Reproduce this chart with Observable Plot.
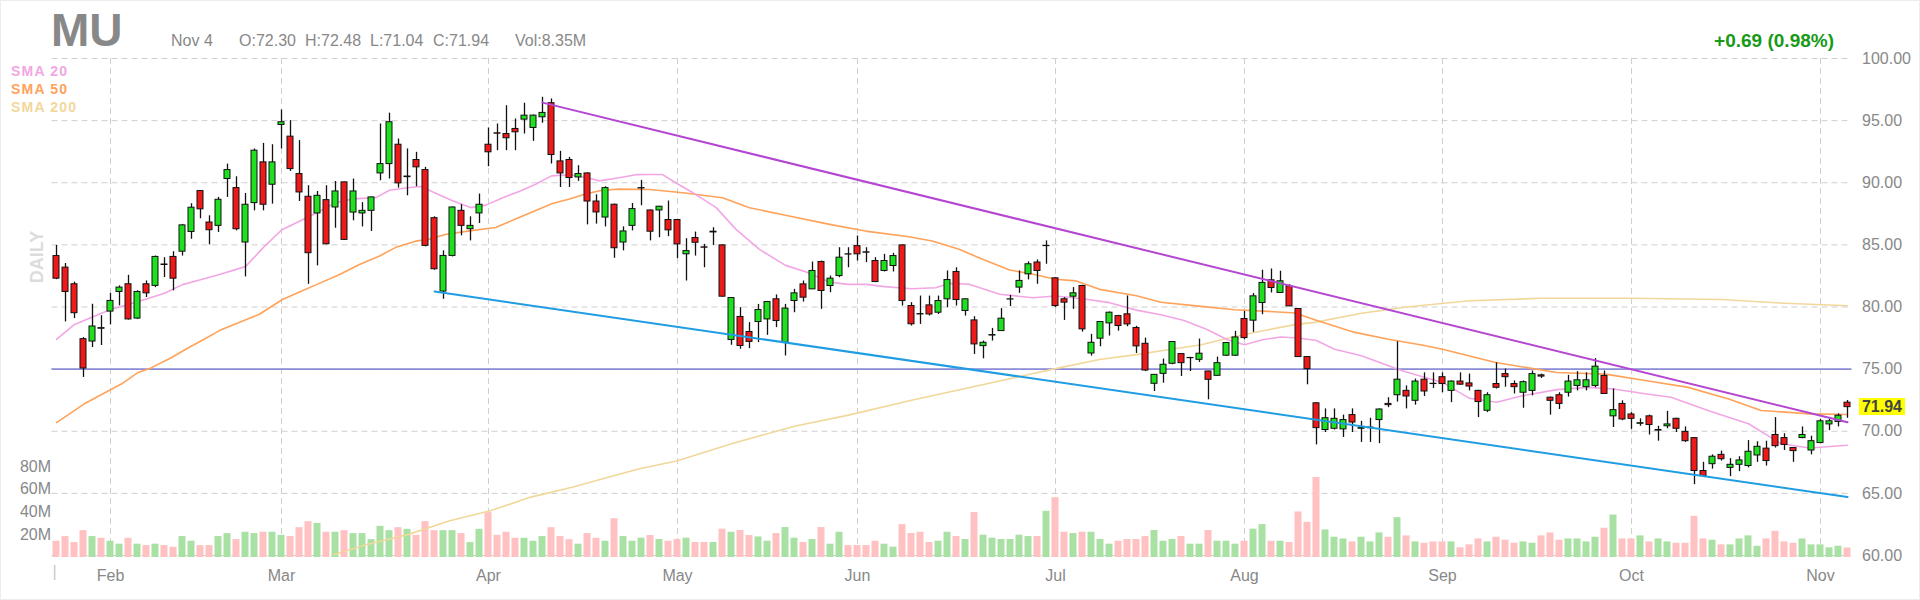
<!DOCTYPE html>
<html><head><meta charset="utf-8">
<script src="https://cdn.jsdelivr.net/npm/d3@7"></script>
<script src="https://cdn.jsdelivr.net/npm/@observablehq/plot@0.6"></script>
<style>
html,body{margin:0;padding:0;background:#fff;}
#wrap{position:relative;width:1920px;height:600px;overflow:hidden;font-family:"Liberation Sans",Arial,sans-serif;box-shadow:inset 0 0 0 1px #ececec;}
#wrap svg{position:absolute;left:0;top:0;}
.t{position:absolute;white-space:nowrap;line-height:1;}
</style></head><body><div id="wrap"></div>
<script>
// ---- data (index 0 = Jan 22, index 199 = Nov 4) ----
const opens = [84.1,83.17,81.83,77.41,77.22,78.3,79.63,81.21,81.83,79.07,81.83,81.7,83.42,84.03,84.45,86.04,89.33,86.8,86.53,90.3,
89.57,85.19,88.36,91.64,89.84,94.65,93.71,90.7,88.87,87.53,88.6,88.01,90.03,87.6,87.53,87.74,90.75,91.5,93.06,90.45,
91.83,91.02,87.15,81.24,84.11,87.74,86.26,87.53,93.06,93.98,93.92,94.33,95.08,94.41,95.27,96.4,91.72,91.83,90.43,90.75,
88.49,87.2,88.23,85.19,86.53,89.54,87.77,87.77,87.0,87.0,84.24,85.55,84.8,86.0,84.96,77.35,79.2,77.99,78.79,79.0,
80.62,77.13,80.48,81.82,81.42,83.62,81.69,82.49,84.24,84.9,84.4,83.7,82.9,83.3,84.96,80.08,79.43,80.13,79.54,80.62,
82.82,79.68,78.92,76.85,77.7,78.06,80.6,81.56,82.63,83.58,84.9,82.31,80.62,80.83,81.69,76.26,77.45,78.68,79.27,79.41,
78.31,77.04,73.82,74.62,75.43,76.21,75.88,75.75,74.81,74.46,76.08,76.08,79.03,78.9,80.32,82.15,81.13,81.67,79.84,75.97,
72.25,70.1,70.2,70.15,71.3,70.2,70.25,70.9,72.2,72.9,73.25,72.45,74.15,73.82,74.35,73.25,74.0,73.85,73.25,71.65,
73.8,74.6,73.8,73.1,73.25,74.5,72.7,72.9,73.1,73.65,73.55,73.65,74.45,71.2,72.2,71.35,70.6,71.2,70.05,70.4,
71.0,69.95,69.45,66.8,67.35,68.1,67.05,67.3,67.2,68.05,68.6,69.7,69.45,68.65,69.45,68.45,69.05,70.55,70.75,72.30];
const highs = [84.96,83.5,82.0,77.54,80.22,79.3,81.1,81.7,82.55,81.3,82.1,84.1,83.97,84.45,86.65,88.31,89.33,87.34,88.82,91.5,
90.48,89.14,92.72,93.17,93.06,95.86,95.0,93.39,89.76,89.3,89.76,90.1,90.05,90.3,88.4,88.85,94.73,95.6,93.52,92.72,
92.45,91.24,87.26,84.52,88.05,88.23,87.26,89.09,94.41,94.73,96.2,95.13,96.4,95.45,96.88,96.75,92.53,92.04,91.37,90.8,
89.03,89.68,88.28,86.45,88.33,90.19,87.8,88.1,88.53,87.05,85.5,86.03,85.04,86.38,85.0,80.75,79.95,78.74,80.21,80.45,
80.97,80.21,81.42,82.09,83.62,83.7,82.49,84.77,84.77,85.71,84.77,83.97,84.24,84.32,85.0,80.35,80.88,80.88,80.88,82.9,
83.16,80.65,79.22,77.26,78.28,79.87,80.94,82.9,83.63,83.79,85.32,82.37,80.75,81.56,81.75,77.8,78.82,79.6,79.33,80.89,
78.45,77.5,74.56,75.81,77.2,76.23,75.95,77.42,74.83,75.97,77.12,78.04,79.65,81.08,82.96,83.06,82.88,81.8,79.86,75.99,
72.3,71.8,71.8,71.3,71.8,70.8,71.05,71.8,72.7,77.2,73.65,74.2,74.7,74.7,74.7,74.05,74.7,74.6,73.3,73.1,
75.5,75.0,74.05,74.05,74.85,74.6,72.75,73.1,74.5,74.8,74.7,75.85,74.85,73.4,72.45,71.5,71.0,71.3,70.4,71.6,
71.05,70.35,69.47,67.5,68.1,68.4,67.8,67.95,69.25,69.15,69.2,71.1,69.8,68.67,70.35,69.6,70.95,70.95,71.4,72.48];
const lows = [82.2,78.8,79.07,74.33,76.74,76.9,78.56,80.09,78.95,79.0,80.76,81.56,82.37,81.3,84.1,85.45,87.1,85.0,86.0,88.82,
86.13,82.42,87.74,87.74,88.28,92.72,90.91,88.49,81.83,83.31,85.0,86.34,85.38,86.94,86.45,86.08,90.16,90.3,89.57,88.95,
89.68,84.84,82.96,80.62,84.03,85.73,85.32,86.72,91.29,92.58,92.58,92.58,93.92,93.33,94.79,91.51,89.62,89.62,90.11,86.61,
86.67,86.45,83.92,84.52,86.13,88.15,85.32,85.58,85.66,83.89,82.09,84.1,83.16,84.96,80.8,76.92,76.6,76.65,77.13,77.72,
78.34,76.06,79.54,80.4,81.4,79.81,81.15,82.36,83.16,83.7,83.57,81.96,82.82,82.82,80.08,78.47,78.6,79.28,79.4,79.94,
80.08,79.27,76.18,75.83,77.26,78.04,80.03,81.1,82.18,81.83,83.44,79.95,78.92,79.81,77.98,76.05,76.8,77.66,78.06,78.41,
76.26,74.81,73.2,73.87,75.35,74.41,74.81,75.54,72.53,74.44,76.02,76.02,77.37,77.96,79.38,81.13,81.1,80.03,75.95,73.74,
68.9,69.9,70.1,69.5,69.9,69.1,69.1,69.0,71.9,72.35,71.8,72.1,72.8,73.45,73.1,72.3,73.7,73.25,71.1,71.5,
73.4,73.55,73.0,71.85,72.85,74.25,71.3,71.75,72.75,73.25,73.25,73.5,72.98,70.3,70.85,70.15,70.4,69.7,69.2,70.2,
69.9,69.1,65.7,66.35,66.95,67.6,66.35,66.75,67.05,67.5,67.2,68.65,68.45,67.5,69.4,68.1,69.0,70.05,70.35,71.04];
const closes = [82.28,81.21,79.5,75.05,78.43,78.25,80.49,81.56,79.0,81.21,81.1,84.03,83.38,82.28,86.57,87.99,87.86,86.18,88.63,91.02,
86.26,88.23,92.58,88.23,91.64,94.87,91.1,89.22,84.33,88.95,85.05,89.3,85.4,89.3,87.74,88.82,91.5,94.87,89.95,90.5,
91.24,84.92,83.04,84.11,88.01,86.53,86.53,88.23,92.45,93.95,93.58,94.06,95.4,95.4,95.62,92.23,90.75,90.38,90.7,88.49,
87.61,89.57,84.73,86.08,87.88,89.57,86.06,88.07,86.17,85.04,84.5,85.17,84.77,86.06,80.83,80.72,76.86,77.19,79.76,80.4,
78.87,79.87,81.1,80.75,82.9,81.29,82.28,83.97,84.22,84.24,84.37,82.01,83.7,84.1,80.48,78.61,79.4,79.4,80.48,82.17,
80.56,80.62,76.99,77.12,77.74,79.06,80.62,82.1,83.44,82.9,84.92,80.08,80.35,81.1,78.2,77.12,78.79,79.54,78.47,78.6,
76.83,74.89,74.54,75.35,77.18,75.48,75.9,76.24,74.14,75.48,77.1,77.55,77.5,80.86,81.94,81.53,82.07,80.05,75.97,75.0,
70.25,71.05,71.0,70.9,70.7,70.25,70.3,71.75,72.1,74.15,72.8,74.0,73.2,73.8,73.8,74.0,73.75,73.6,72.35,72.9,
73.5,74.35,73.55,73.95,74.6,74.4,72.45,72.2,74.0,74.1,74.1,75.2,73.0,71.7,70.95,71.0,70.65,70.5,70.1,70.55,
70.2,69.2,66.8,66.4,67.95,67.75,67.3,67.65,68.35,68.75,67.6,68.8,68.9,68.4,69.7,69.2,70.8,70.8,71.25,71.94];
const volumes = [14.3,18.4,13.1,23.6,18.4,16.9,14.3,11.7,16.9,11.7,10.5,11.7,10.5,9.0,18.4,14.3,10.5,10.5,18.4,21.0,
15.7,22.2,21.0,22.2,22.2,19.5,18.4,26.2,31.5,30.0,22.2,22.2,23.6,21.0,21.0,15.7,27.4,23.6,26.2,24.8,
19.5,31.5,23.6,23.6,23.6,21.0,13.1,24.8,39.4,19.5,22.2,16.9,16.9,14.3,18.4,26.2,18.4,15.7,11.7,21.0,
16.9,14.3,34.1,18.4,14.3,17.0,19.3,15.8,14.3,15.8,17.0,13.2,13.2,13.2,24.9,22.2,23.7,19.3,18.1,14.3,
21.1,26.3,17.0,13.2,15.8,26.3,11.7,22.2,10.5,10.5,10.5,14.3,11.7,9.1,28.9,21.1,22.2,13.2,14.3,22.2,
18.4,15.8,39.5,19.6,17.0,15.8,15.8,19.6,18.4,18.4,40.6,52.6,22.2,21.1,22.2,22.2,15.8,11.7,14.3,15.8,
15.8,18.4,23.7,14.3,15.8,18.4,11.7,11.7,23.7,14.3,14.3,11.7,14.3,24.9,28.9,14.3,14.3,13.2,40.0,30.9,
70.3,24.2,17.8,16.3,13.7,17.8,13.7,21.6,17.8,35.0,19.0,13.7,12.5,13.7,13.7,13.7,8.5,11.1,16.3,13.7,
17.8,15.2,12.5,13.7,12.5,19.0,21.6,15.2,16.3,16.3,13.7,17.8,25.7,37.3,16.3,16.3,19.0,13.7,16.3,13.7,
12.5,12.5,36.2,16.3,15.2,11.1,11.1,16.3,19.0,9.9,16.3,23.0,13.7,12.5,16.3,11.1,11.1,8.5,9.9,8.35];

const sma20 = [[0,77.4],[2,78.6],[4,79.2],[6,79.8],[8,80.2],[10,80.65],[12,81.1],[14,81.8],[16,82.2],[18,82.6],[21,83.25],[23,84.8],[25,86.2],[27,86.9],[29,87.6],[31,88.4],[33,88.7],[35.5,88.8],[37,89.4],[39,89.6],[40.5,89.7],[42,89.2],[44,88.55],[46,88.0],[47.7,88.2],[49.6,88.8],[51.4,89.3],[53.3,89.9],[55,90.55],[57,90.65],[59,90.4],[60.3,90.15],[62.5,90.4],[64.4,90.65],[66,90.67],[67.3,90.67],[68.8,90.0],[70.7,89.2],[73.3,88.0],[75.5,86.25],[78.1,84.64],[81,83.35],[83.3,82.82],[85.9,82.0],[88,81.82],[90,81.82],[92,81.64],[95,81.47],[97.7,81.55],[99.2,81.9],[101.4,81.83],[104.8,81.02],[108.5,80.75],[111,80.89],[114,80.67],[117,80.35],[120,79.75],[122.7,79.38],[125.3,78.92],[127.9,78.17],[130.1,77.37],[132,76.96],[134,77.37],[136,77.58],[138,77.5],[140,77.3],[142,76.6],[145,76.07],[149.5,74.87],[154,73.93],[157,72.65],[160,72.33],[163,72.87],[166.7,73.35],[170.3,73.53],[173,73.4],[176.7,73.0],[179.4,72.73],[183.5,71.67],[188,70.6],[191.6,69.0],[194.8,68.65],[199,68.87]];
const sma50 = [[0,70.7],[3.3,72.3],[7.2,73.8],[9,74.7],[10.5,75.1],[12.7,75.9],[14.6,76.7],[16.4,77.4],[18.1,78.1],[22.5,79.4],[25.1,80.6],[27,81.2],[29.2,81.9],[31.4,82.6],[33.6,83.4],[35.9,84.1],[37.7,84.8],[39.9,85.3],[41.4,85.45],[43.3,85.86],[45.9,86.13],[48.8,86.4],[51.4,87.2],[55.1,88.33],[56.9,88.68],[58.8,89.09],[60.6,89.4],[62.5,89.49],[65.9,89.46],[69.6,89.2],[74,88.79],[77,87.99],[81.4,87.32],[85.9,86.65],[89.9,86.11],[94.7,85.66],[97.3,85.31],[100.3,84.64],[102.9,83.84],[105.9,82.98],[108.5,82.63],[111,82.23],[113.3,82.1],[115.9,81.42],[120,80.9],[122.7,80.38],[127.2,80.05],[130.9,79.78],[134.6,79.65],[137.6,79.52],[139.8,78.98],[144,78.0],[148,77.4],[152,76.9],[154,76.6],[159.9,75.53],[166.7,74.73],[172.1,74.6],[176.7,74.07],[181.3,73.53],[185.8,72.6],[189.4,71.67],[194.8,71.4],[199,71.35]];
const sma200 = [[29.6,59.8],[32.3,60.4],[34.6,60.9],[39.1,61.7],[43.7,62.8],[48.2,63.6],[52.7,64.7],[57.3,65.5],[61.8,66.4],[64.9,67.0],[68.9,67.6],[75,69.0],[82,70.4],[88,71.3],[95,72.5],[102,73.6],[107,74.4],[111.4,75.1],[115.9,75.78],[120,76.17],[123.5,76.56],[127.2,76.96],[130.9,77.63],[134.6,78.17],[137.6,78.58],[139.8,78.76],[145,79.5],[150,80.0],[157,80.5],[165,80.7],[175,80.7],[185,80.6],[192,80.3],[199,80.1]];

const upperTrend = [[54,96.45],[199,70.72]];
const lowerTrend = [[42,81.25],[199,64.7]];
const hLevel = [75];

const monthIdx = [6,25,48,69,89,111,132,154,175,196];
const monthLabels = ["Feb","Mar","Apr","May","Jun","Jul","Aug","Sep","Oct","Nov"];
const priceTicks = [60,65,70,75,80,85,90,95,100];
const volTicks = [20,40,60,80];
const lastClose = 71.94;

// ---- build ----
const candles = opens.map((o,i)=>({i, open:o, high:highs[i], low:lows[i], close:closes[i], vol:volumes[i], up: closes[i] >= o}));
const FONT = '"Liberation Sans", Arial, sans-serif';
const xDom = [-0.5, 199.5];
const base = {width:1920, height:600, marginLeft:51.5, marginRight:68.5,
  style:{background:"transparent", fontFamily:FONT, fontSize:"16px", overflow:"visible"}};
const wrap = document.getElementById("wrap");

// layer 1: grid
const grid = Plot.plot({...base, marginTop:58, marginBottom:45,
  x:{domain:xDom, axis:null}, y:{domain:[60,100], axis:null},
  marks:[
    Plot.ruleY(priceTicks, {stroke:"#cfcfcf", strokeWidth:1, strokeDasharray:"6,4"}),
    Plot.ruleX(monthIdx, {stroke:"#cfcfcf", strokeWidth:1, strokeDasharray:"6,4"})
  ]});
wrap.appendChild(grid);

// layer 2: volume
const vol = Plot.plot({...base, marginTop:466, marginBottom:43,
  x:{domain:xDom, axis:null}, y:{domain:[0,80], axis:null},
  marks:[
    Plot.rect(candles, {x1:d=>d.i-0.5, x2:d=>d.i+0.5, y1:0, y2:"vol", insetLeft:1, insetRight:1,
      fill:d=>d.up ? "#a9e0a3" : "#ffc1c1"}),
    Plot.axisY(volTicks, {anchor:"left", tickSize:0, tickPadding:1, tickFormat:d=>d+"M", color:"#888", fontSize:16, label:null})
  ]});
wrap.appendChild(vol);

// layer 3: price
const price = Plot.plot({...base, marginTop:58, marginBottom:45,
  x:{domain:xDom, axis:null}, y:{domain:[60,100], axis:null},
  marks:[
    Plot.ruleY(hLevel, {stroke:"#8c8cd8", strokeWidth:1.6}),
    Plot.line(sma200, {x:d=>d[0], y:d=>d[1], stroke:"#f2d79b", strokeWidth:1.6, clip:true}),
    Plot.line(sma50, {x:d=>d[0], y:d=>d[1], stroke:"#ffa25a", strokeWidth:1.6}),
    Plot.line(sma20, {x:d=>d[0], y:d=>d[1], stroke:"#f2a6e4", strokeWidth:1.6}),
    Plot.ruleX(candles, {x:"i", y1:"low", y2:"high", stroke:"#111", strokeWidth:1.3}),
    Plot.rect(candles, {x1:d=>d.i-0.5, x2:d=>d.i+0.5, y1:"open", y2:"close", insetLeft:1.5, insetRight:1.5,
      fill:d=>d.up ? "#1fe01f" : "#ee1a1a", stroke:"#111", strokeWidth:1}),
    Plot.line(upperTrend, {x:d=>d[0], y:d=>d[1], stroke:"#b446d2", strokeWidth:2}),
    Plot.line(lowerTrend, {x:d=>d[0], y:d=>d[1], stroke:"#1f9de3", strokeWidth:2}),
    Plot.axisY(priceTicks, {anchor:"right", tickSize:0, tickPadding:10, tickFormat:d3.format(".2f"), color:"#888", fontSize:16, label:null}),
    Plot.axisX(monthIdx, {anchor:"bottom", tickSize:0, tickPadding:14, tickFormat:(d,k)=>monthLabels[monthIdx.indexOf(d)], color:"#888", fontSize:16, label:null}),
    Plot.text([-0.22], {x:d=>d, frameAnchor:"bottom", dy:21, text:()=>"|", fill:"#c8c8c8", fontSize:16})
  ]});
wrap.appendChild(price);

// last price tag positioned through the price y scale
const yLast = price.scale("y").apply(lastClose);
const tag = document.createElement("div");
tag.className = "t";
Object.assign(tag.style, {left:"1859px", top:(yLast-8.5)+"px", width:"46px", height:"17px", lineHeight:"17px",
  background:"#ffff00", color:"#444", fontWeight:"bold", fontSize:"16px", textAlign:"center"});
tag.textContent = d3.format(".2f")(lastClose);
wrap.appendChild(tag);

// header texts
function addText(txt, css){ const d=document.createElement("div"); d.className="t"; d.textContent=txt; Object.assign(d.style, css); wrap.appendChild(d); return d; }
addText("MU", {left:"51px", top:"7px", fontSize:"46px", fontWeight:"bold", color:"#888"});
const info = [["Nov 4",171],["O:72.30",239],["H:72.48",305],["L:71.04",370],["C:71.94",433],["Vol:8.35M",515]];
info.forEach(([t,x])=>addText(t, {left:x+"px", top:"32.5px", fontSize:"16px", color:"#888"}));
addText("+0.69 (0.98%)", {right:"86px", top:"31px", fontSize:"19px", fontWeight:"bold", color:"#179a17"});
const legend = [["SMA 20","#f2a6e4",64],["SMA 50","#ffa25a",82],["SMA 200","#f2d79b",100]];
legend.forEach(([t,c,y])=>addText(t, {left:"11px", top:y+"px", fontSize:"14px", fontWeight:"bold", letterSpacing:"1.2px", color:c}));
const daily = addText("DAILY", {left:"37px", top:"257px", fontSize:"18px", fontWeight:"bold", color:"#dcdcdc"});
daily.style.transform = "translate(-50%,-50%) rotate(-90deg)";
</script>
</body></html>
